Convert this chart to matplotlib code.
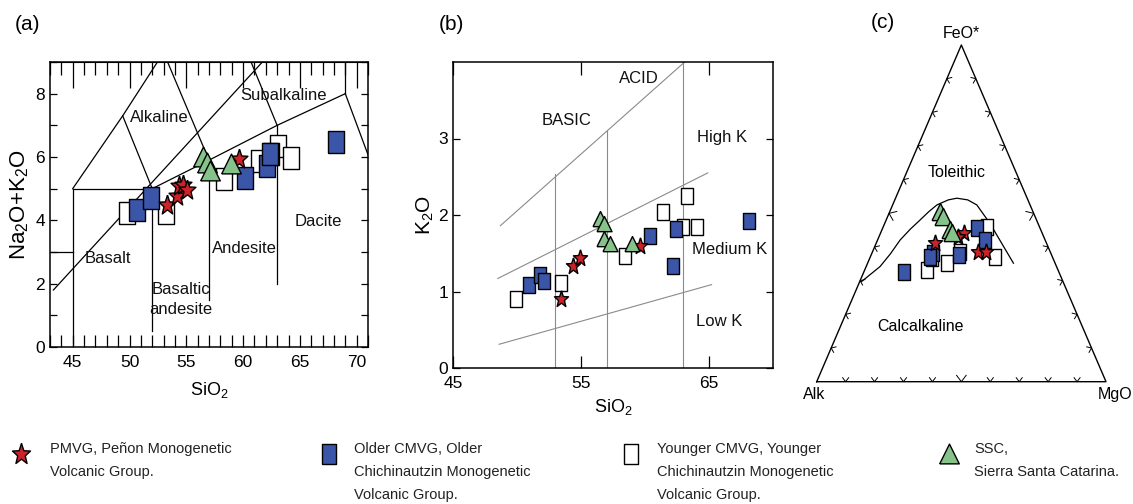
import numpy as np
import matplotlib
matplotlib.use("Agg")
import matplotlib.pyplot as plt
from matplotlib.ticker import MultipleLocator

plt.rcParams['font.family'] = ['Liberation Sans', 'DejaVu Sans']
plt.rcParams['mathtext.fontset'] = 'custom'
plt.rcParams['mathtext.rm'] = 'Liberation Sans'
plt.rcParams['mathtext.it'] = 'Liberation Sans'

# ---------------- data ----------------
# (a) TAS: SiO2 vs Na2O+K2O
tas_white_sio2 = [49.8, 53.2, 58.3, 61.4, 63.1, 62.5, 64.2]
tas_white_alk = [4.23, 4.23, 5.29, 5.87, 6.35, 6.08, 5.98]
tas_blue_sio2 = [50.7, 51.9, 60.2, 62.1, 62.4, 68.2]
tas_blue_alk = [4.34, 4.71, 5.35, 5.71, 6.10, 6.46]
tas_star_sio2 = [53.3, 54.2, 54.4, 54.7, 55.1, 59.6]
tas_star_alk = [4.50, 4.76, 5.08, 5.13, 4.97, 5.93]
tas_tri_sio2 = [56.5, 56.8, 57.1, 58.9]
tas_tri_alk = [6.00, 5.80, 5.55, 5.77]

# (b) SiO2 vs K2O
k_white_sio2 = [49.9, 53.4, 58.4, 61.4, 63.3, 63.0, 64.1]
k_white_k2o = [0.90, 1.11, 1.46, 2.04, 2.25, 1.84, 1.84]
k_blue_sio2 = [50.9, 51.8, 52.1, 60.4, 62.4, 62.2, 68.1]
k_blue_k2o = [1.09, 1.21, 1.14, 1.72, 1.82, 1.33, 1.92]
k_star_sio2 = [53.4, 54.4, 54.9, 59.6]
k_star_k2o = [0.90, 1.33, 1.44, 1.59]
k_tri_sio2 = [56.5, 56.8, 56.8, 57.3, 59.0]
k_tri_k2o = [1.95, 1.88, 1.69, 1.62, 1.62]

# (c) AFM (wt% normalised): Alk, FeO*, MgO
afm_white_alk = [45.4, 37.5, 41.9, 19.8, 18.2, 31.2]
afm_white_feo = [33.2, 35.2, 36.7, 37.1, 46.0, 38.6]
afm_white_mgo = [21.4, 27.3, 21.4, 43.1, 35.8, 30.2]
afm_blue_alk = [53.6, 40.6, 42.2, 31.9, 21.9, 20.7]
afm_blue_feo = [32.7, 38.1, 37.1, 37.6, 45.6, 42.1]
afm_blue_mgo = [13.7, 21.3, 20.7, 30.5, 32.5, 37.2]
afm_star_alk = [38.5, 27.2, 29.5, 24.8, 22.2]
afm_star_feo = [41.1, 44.1, 43.1, 38.6, 38.6]
afm_star_mgo = [20.4, 28.7, 27.4, 36.6, 39.2]
afm_tri_alk = [32.1, 32.0, 31.3, 31.2]
afm_tri_feo = [50.5, 48.8, 45.1, 44.1]
afm_tri_mgo = [17.4, 19.2, 23.6, 24.7]

# field boundaries
tas_lines = [
    [(45, 0), (45, 5)],
    [(43, 3), (45, 3)],
    [(45, 5), (52, 5)],
    [(45, 5), (49.4, 7.3), (53, 9.3)],
    [(49.4, 7.3), (52, 5)],
    [(52, 5), (57, 5.9), (63, 7), (69, 8)],
    [(57, 5.9), (53, 9.3)],
    [(63, 7), (57.6, 11.7)],
    [(69, 8), (69, 9.5)],
    [(69, 8), (77.3, 0)],
    [(52, 0.5), (52, 5)],
    [(57, 1.5), (57, 5.9)],
    [(63, 2), (63, 7)],
    [(43.3, 1.8), (61.7, 9.0)],
]
k_lines = [
    [(48.7, 1.86), (63.1, 4.0)],
    [(48.5, 1.17), (64.9, 2.55)],
    [(48.6, 0.31), (65.2, 1.09)],
    [(53, 0), (53, 2.53)],
    [(57, 0), (57, 3.1)],
    [(63, 0), (63, 4.0)],
]
ib_alk = [69.7, 61.0, 55.5, 50.1, 45.0, 40.3, 36.0, 32.2, 27.5, 24.3, 20.8, 18.4, 16.6, 15.5, 14.4]
ib_feo = [29.7, 34.2, 38.0, 42.1, 45.3, 48.0, 50.5, 52.5, 54.0, 54.5, 54.0, 52.5, 47.0, 41.1, 35.2]
ib_mgo = [0.6, 4.8, 6.5, 7.8, 9.7, 11.7, 13.5, 15.3, 18.5, 21.2, 25.2, 29.1, 36.4, 43.4, 50.4]

red = '#cc2229'
blue = '#3b55a9'
green = '#86c38a'

# marker shapes (slightly condensed like the original)
sq = [(-0.36, -0.5), (0.36, -0.5), (0.36, 0.5), (-0.36, 0.5), (-0.36, -0.5)]
tri = [(-0.47, -0.45), (0.47, -0.45), (0, 0.5), (-0.47, -0.45)]
ang = np.pi / 2 + np.arange(10) * np.pi / 5
rad = np.where(np.arange(10) % 2 == 0, 0.5, 0.21)
star = [(0.85 * r * np.cos(a), r * np.sin(a)) for r, a in zip(rad, ang)]
star.append(star[0])

W, H = 1133, 504
fig = plt.figure(figsize=(W / 100, H / 100), dpi=100)


def box(l, t, r, b):
    return [l / W, 1 - b / H, (r - l) / W, (b - t) / H]


def pts(ax, x, y, marker, fc, ms, z):
    ax.plot(x, y, linestyle='none', marker=marker, markerfacecolor=fc,
            markeredgecolor='black', markeredgewidth=1.0, markersize=ms, zorder=z)


# ---------------- (a) ----------------
ax1 = fig.add_axes(box(50, 62, 368, 347))
for seg in tas_lines:
    xs, ys = zip(*seg)
    ax1.plot(xs, ys, color='black', lw=0.9, zorder=1)
pts(ax1, tas_white_sio2, tas_white_alk, sq, 'white', 16, 3)
pts(ax1, tas_blue_sio2, tas_blue_alk, sq, blue, 16, 4)
pts(ax1, tas_star_sio2, tas_star_alk, star, red, 15, 5)
pts(ax1, tas_tri_sio2, tas_tri_alk, tri, green, 15, 6)
ax1.set_xlim(43, 71)
ax1.set_ylim(0, 9)
ax1.set_xticks([45, 50, 55, 60, 65, 70])
ax1.xaxis.set_minor_locator(MultipleLocator(1))
ax1.set_yticks([0, 2, 4, 6, 8])
ax1.yaxis.set_minor_locator(MultipleLocator(1))
ax1.tick_params(axis='x', which='both', direction='in', length=9, width=0.9,
                labelsize=12.5, pad=6)
ax1.tick_params(axis='y', which='both', direction='in', length=5, width=0.9,
                right=True, labelsize=12.5)
top = ax1.secondary_xaxis('top')
top.set_xticks([45, 50, 55, 60, 65, 70])
top.xaxis.set_minor_locator(MultipleLocator(1))
top.tick_params(which='major', direction='in', length=19, width=0.9, labeltop=False)
top.tick_params(which='minor', direction='in', length=9.5, width=0.9)
for s in ax1.spines.values():
    s.set_linewidth(1.1)
ax1.set_xlabel(r'SiO$_2$', fontsize=13, labelpad=7)
ax1.set_ylabel(r'Na$_2$O+K$_2$O', fontsize=16, labelpad=3)
txt = dict(fontsize=12, ha='center', va='center', color='#111111')
ax1.text(52.6, 7.25, 'Alkaline', **txt)
ax1.text(63.6, 7.94, 'Subalkaline', **txt)
ax1.text(48.1, 2.8, 'Basalt', **txt)
ax1.text(54.5, 1.5, 'Basaltic\nandesite', linespacing=1.45, **txt)
ax1.text(60.1, 3.12, 'Andesite', **txt)
ax1.text(66.6, 3.97, 'Dacite', **txt)

# ---------------- (b) ----------------
ax2 = fig.add_axes(box(453, 62, 773, 368))
for seg in k_lines:
    xs, ys = zip(*seg)
    ax2.plot(xs, ys, color='#8a8a8a', lw=0.8, zorder=1)
pts(ax2, k_white_sio2, k_white_k2o, sq, 'white', 12, 3)
pts(ax2, k_blue_sio2, k_blue_k2o, sq, blue, 12, 4)
pts(ax2, k_star_sio2, k_star_k2o, star, red, 12.5, 5)
pts(ax2, k_tri_sio2, k_tri_k2o, tri, green, 11.5, 6)
ax2.set_xlim(45, 70)
ax2.set_ylim(0, 4)
ax2.set_xticks([45, 55, 65])
ax2.set_yticks([0, 1, 2, 3])
ax2.tick_params(axis='x', direction='in', length=9, width=0.9, top=True,
                labelsize=12.5, pad=6)
ax2.tick_params(axis='y', direction='in', length=5, width=0.9, right=True,
                labelsize=12.5)
for s in ax2.spines.values():
    s.set_linewidth(1.1)
ax2.set_xlabel(r'SiO$_2$', fontsize=13, labelpad=4)
ax2.set_ylabel(r'K$_2$O', fontsize=15, labelpad=2)
ax2.text(59.5, 3.78, 'ACID', **txt)
ax2.text(53.9, 3.23, 'BASIC', **txt)
ax2.text(66.0, 3.01, 'High K', **txt)
ax2.text(66.6, 1.55, 'Medium K', **txt)
ax2.text(65.8, 0.61, 'Low K', **txt)

# ---------------- (c) AFM ----------------
l3, t3, r3, b3 = 816.7, 45, 1106, 381.7
ax3 = fig.add_axes(box(l3, t3, r3, b3))
ax3.set_xlim(0, 1)
ax3.set_ylim(0, 1)
ax3.axis('off')
pw, ph = r3 - l3, b3 - t3


def afm(alk, feo, mgo):
    a, f, m = (np.asarray(v, float) for v in (alk, feo, mgo))
    s = a + f + m
    return m / s + f / s / 2, f / s


cx, cy = afm([100, 0, 0, 100], [0, 100, 0, 0], [0, 0, 100, 0])
ax3.plot(cx, cy, color='black', lw=1.0, clip_on=False)

# chevron ticks every 10 %
edges = [((0, 0), (pw, 0)), ((0, 0), (pw / 2, ph)), ((pw, 0), (pw / 2, ph))]
centroid = np.array([pw / 2, ph / 3])
for p0, p1 in edges:
    p0, p1 = np.array(p0), np.array(p1)
    tv = (p1 - p0) / np.linalg.norm(p1 - p0)
    nv = np.array([-tv[1], tv[0]])
    mid = (p0 + p1) / 2
    if np.dot(centroid - mid, nv) < 0:
        nv = -nv
    for i in range(1, 10):
        P = p0 + (p1 - p0) * i / 10
        L = 8 if i == 5 else 5
        a1 = P + L * (0.8 * nv + 0.6 * tv)
        a2 = P + L * (0.8 * nv - 0.6 * tv)
        xs = [a1[0] / pw, P[0] / pw, a2[0] / pw]
        ys = [a1[1] / ph, P[1] / ph, a2[1] / ph]
        ax3.plot(xs, ys, color='black', lw=0.7, clip_on=False)

ibx, iby = afm(ib_alk, ib_feo, ib_mgo)
ax3.plot(ibx, iby, color='black', lw=0.9, zorder=1)

for a, f, m, mk, fc, ms, z in [
        (afm_white_alk, afm_white_feo, afm_white_mgo, sq, 'white', 12, 3),
        (afm_blue_alk, afm_blue_feo, afm_blue_mgo, sq, blue, 12, 4),
        (afm_star_alk, afm_star_feo, afm_star_mgo, star, red, 12.5, 5),
        (afm_tri_alk, afm_tri_feo, afm_tri_mgo, tri, green, 13, 6)]:
    x, y = afm(a, f, m)
    pts(ax3, x, y, mk, fc, ms, z)

ax3.text(0.5, 1.012, 'FeO*', fontsize=11.5, ha='center', va='bottom')
ax3.text(-0.01, -0.015, 'Alk', fontsize=11.5, ha='center', va='top')
ax3.text(1.03, -0.015, 'MgO', fontsize=11.5, ha='center', va='top')
ax3.text(0.484, 0.620, 'Toleithic', fontsize=11.5, ha='center', va='center')
ax3.text(0.36, 0.164, 'Calcalkaline', fontsize=11.5, ha='center', va='center')

# panel letters
fig.text(27 / W, 1 - 25 / H, '(a)', fontsize=15, ha='center', va='center')
fig.text(451 / W, 1 - 25 / H, '(b)', fontsize=15, ha='center', va='center')
fig.text(883 / W, 1 - 23 / H, '(c)', fontsize=15, ha='center', va='center')

# ---------------- legend ----------------
leg = fig.add_axes([0, 0, 1, 1])
leg.set_xlim(0, W)
leg.set_ylim(H, 0)
leg.axis('off')
entries = [
    (20.7, star, red, 16, 'PMVG, Peñon Monogenetic\nVolcanic Group.', 50),
    (328.6, sq, blue, 15, 'Older CMVG, Older\nChichinautzin Monogenetic\nVolcanic Group.', 353.6),
    (631, sq, 'white', 15, 'Younger CMVG, Younger\nChichinautzin Monogenetic\nVolcanic Group.', 656.7),
    (948.7, tri, green, 15, 'SSC,\nSierra Santa Catarina.', 974.2),
]
for mx, mk, fc, ms, label, tx in entries:
    pts(leg, [mx], [454], mk, fc, ms, 3)
    leg.text(tx, 442, label, fontsize=10.5, ha='left', va='top',
             linespacing=1.82, color='#222222')

fig.savefig('out.png', dpi=100)
